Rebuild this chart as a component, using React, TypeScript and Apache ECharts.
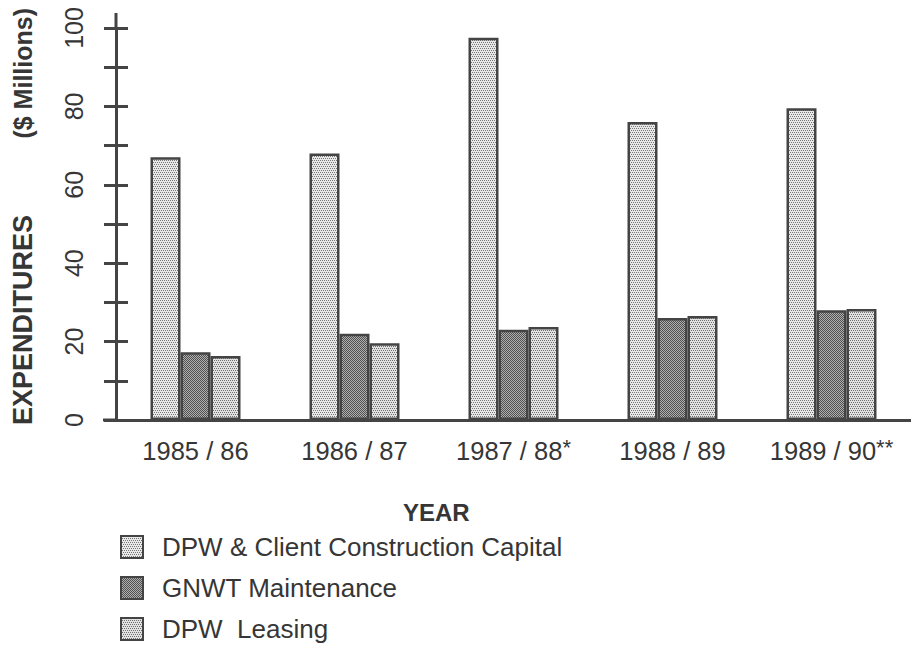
import React, { useEffect, useRef } from "react";
import * as echarts from "echarts";

const categories = ["1985 / 86", "1986 / 87", "1987 / 88", "1988 / 89", "1989 / 90"];
const footnotes = ["", "", "*", "", "**"];
const seriesNames = ["DPW & Client Construction Capital", "GNWT Maintenance", "DPW  Leasing"];
const capitalValues = [67, 68, 97.5, 76, 79.5];
const maintenanceValues = [17.3, 22, 23, 26, 28];
const leasingValues = [16.3, 19.6, 23.7, 26.5, 28.3];
const yLabelValues = [0, 20, 40, 60, 80, 100];

const FONT = "'Liberation Sans', Arial, Helvetica, sans-serif";
const TEXT = "#363636";
const AXIS = "#444444";
const GRID_LEFT = 116;

function makePattern(bg: string, dot: string, dots: number[][]) {
  const c = document.createElement("canvas");
  c.width = 4;
  c.height = 4;
  const ctx = c.getContext("2d")!;
  ctx.fillStyle = bg;
  ctx.fillRect(0, 0, 4, 4);
  ctx.fillStyle = dot;
  dots.forEach(([x, y]) => ctx.fillRect(x, y, 1, 1));
  return { image: c, repeat: "repeat", imageWidth: 4, imageHeight: 4 };
}

export default function App() {
  const ref = useRef<HTMLDivElement>(null);
  useEffect(() => {
    if (!ref.current) return;
    const chart = echarts.init(ref.current, null, { renderer: "svg" });
    const sparse = [[0, 0], [2, 0], [1, 2], [3, 2]];
    const checker = [[0, 0], [2, 0], [1, 1], [3, 1], [0, 2], [2, 2], [1, 3], [3, 3]];
    const lightA = makePattern("#e8e8e8", "#777777", sparse);
    const dark = makePattern("#b0b0b0", "#505050", checker);
    const lightB = makePattern("#e2e2e2", "#6e6e6e", sparse);
    const values = [capitalValues, maintenanceValues, leasingValues];
    const fills = [lightA, dark, lightB];

    const option: any = {
      animation: false,
      backgroundColor: "#ffffff",
      textStyle: { fontFamily: FONT, color: TEXT },
      grid: { left: GRID_LEFT, top: 28, width: 802, height: 392, containLabel: false },
      title: {
        text: "YEAR",
        left: 398,
        top: 495,
        textStyle: { fontFamily: FONT, fontSize: 24, fontWeight: "bold", color: TEXT },
      },
      legend: {
        orient: "vertical",
        left: 115,
        top: 529,
        height: 200,
        itemWidth: 22,
        itemHeight: 22,
        itemGap: 15,
        icon: "rect",
        data: seriesNames,
        textStyle: { fontFamily: FONT, fontSize: 26, lineHeight: 22, color: TEXT, padding: [0, 0, 0, 14] },
      },
      xAxis: {
        type: "category",
        data: categories,
        axisLine: { show: true, lineStyle: { color: AXIS, width: 3 } },
        axisTick: { show: false },
        splitLine: { show: false },
        axisLabel: {
          margin: 16,
          formatter: (v: string, i: number) =>
            footnotes[i] ? `{m|${v}}{s|${footnotes[i]}}` : `{m|${v}}`,
          rich: {
            m: { fontFamily: FONT, fontSize: 25.5, color: TEXT, lineHeight: 30 },
            s: { fontFamily: FONT, fontSize: 22, color: TEXT, verticalAlign: "top", lineHeight: 16 },
          },
        },
      },
      yAxis: [
        {
          type: "value",
          position: "left",
          min: 0,
          max: 100,
          interval: 10,
          axisLine: { show: true, lineStyle: { color: AXIS, width: 3 } },
          axisTick: { show: true, length: 12, lineStyle: { color: AXIS, width: 3 } },
          splitLine: { show: false },
          axisLabel: {
            rotate: 90,
            margin: 30,
            fontFamily: FONT,
            fontSize: 25,
            color: TEXT,
            formatter: (v: number) => (yLabelValues.includes(v) ? String(v) : ""),
          },
          name: "{a|EXPENDITURES}{g|           }{b|($ Millions)}",
          nameLocation: "middle",
          nameRotate: 90,
          nameGap: 80,
          nameTextStyle: {
            fontFamily: FONT,
            fontSize: 25,
            fontWeight: "bold",
            color: TEXT,
            padding: [0, 0, 0, 15],
            rich: {
              a: { fontFamily: FONT, fontSize: 27, fontWeight: "bold", color: TEXT },
              g: { fontFamily: FONT, fontSize: 25, fontWeight: "bold", color: TEXT },
              b: { fontFamily: FONT, fontSize: 25, fontWeight: "bold", color: TEXT },
            },
          },
        },
        {
          type: "value",
          position: "left",
          min: 0,
          max: 100,
          interval: 10,
          axisLine: { show: false },
          axisTick: { show: true, inside: true, length: 12, lineStyle: { color: AXIS, width: 3 } },
          axisLabel: { show: false },
          splitLine: { show: false },
        },
      ],
      series: seriesNames.map((name, k) => ({
        name,
        type: "bar",
        data: values[k],
        barWidth: 30,
        barGap: "0%",
        itemStyle: { color: fills[k], borderColor: AXIS, borderWidth: 2.5 },
      })),
    };
    chart.setOption(option);

    const yTop = chart.convertToPixel({ yAxisIndex: 0 }, 100) as number;
    const yBottom = chart.convertToPixel({ yAxisIndex: 0 }, 0) as number;
    chart.setOption({
      graphic: [
        {
          type: "line",
          shape: { x1: GRID_LEFT, y1: yTop - 15, x2: GRID_LEFT, y2: yTop },
          style: { stroke: AXIS, lineWidth: 3 },
        },
        {
          type: "line",
          shape: { x1: GRID_LEFT - 13, y1: yBottom, x2: GRID_LEFT, y2: yBottom },
          style: { stroke: AXIS, lineWidth: 3 },
        },
      ],
    });

    return () => chart.dispose();
  }, []);

  return (
    <div
      ref={ref}
      style={{ position: "absolute", left: 0, top: 0, width: 911, height: 648, background: "#fff" }}
    />
  );
}
